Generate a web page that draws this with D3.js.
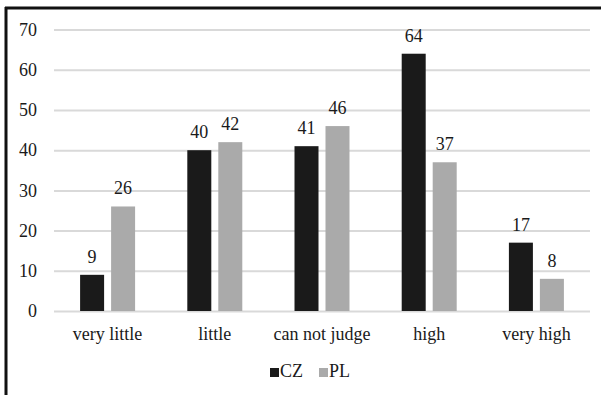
<!DOCTYPE html>
<html><head><meta charset="utf-8">
<script src="https://cdn.jsdelivr.net/npm/d3@7"></script>
<style>body{margin:0;background:#fff}svg{display:block}</style>
</head><body><svg id="c" width="601" height="395"></svg>
<script>
const categories = ["very little","little","can not judge","high","very high"];
const seriesNames = ["CZ","PL"];
const czValues = [9,40,41,64,17];
const plValues = [26,42,46,37,8];
const yTicks = [0,10,20,30,40,50,60,70];
const colors = {CZ:"#1a1a1a", PL:"#aaaaaa"};
const FONT = '"Liberation Serif"';
const FS = "18px";

const svg = d3.select("#c");
svg.append("line").attr("x1",6).attr("x2",6).attr("y1",7).attr("y2",395).attr("stroke","#111").attr("stroke-width",3);
svg.append("line").attr("x1",5).attr("x2",601).attr("y1",8).attr("y2",8).attr("stroke","#111").attr("stroke-width",3);

const y = d3.scaleLinear().domain([0,70]).range([311,29.6]);
const x0 = d3.scaleBand().domain(categories).range([54,590]).paddingInner(0.487).paddingOuter(0.2435);
const x1 = d3.scaleBand().domain(seriesNames).range([0,x0.bandwidth()]).paddingInner(0.2258);

const grid = d3.axisLeft(y).tickValues(yTicks).tickSize(-(590-54)).tickFormat("");
const gG = svg.append("g").attr("transform","translate(54,0)").call(grid);
gG.select(".domain").remove();
gG.selectAll("line").attr("stroke","#d9d9d9").attr("stroke-width",2);

const yAx = d3.axisLeft(y).tickValues(yTicks).tickSize(0).tickPadding(0);
const yG = svg.append("g").attr("transform","translate(37,0)").call(yAx);
yG.attr("font-family",FONT).attr("font-size",FS);
yG.select(".domain").remove();
yG.selectAll("text").style("font-family",FONT).style("font-size",FS).attr("fill","#1a1a1a");

const data = categories.map((c,i)=>({cat:c, vals:[{s:"CZ",v:czValues[i]},{s:"PL",v:plValues[i]}]}));
const groups = svg.append("g").selectAll("g").data(data).join("g")
  .attr("transform",d=>`translate(${x0(d.cat)},0)`);
groups.selectAll("rect").data(d=>d.vals).join("rect")
  .attr("x",d=>x1(d.s)).attr("width",x1.bandwidth())
  .attr("y",d=>y(d.v)).attr("height",d=>y(0)-y(d.v))
  .attr("fill",d=>colors[d.s]);
groups.selectAll("text").data(d=>d.vals).join("text")
  .attr("x",d=>x1(d.s)+x1.bandwidth()/2).attr("y",d=>y(d.v)-12)
  .attr("text-anchor","middle").style("font-family",FONT).style("font-size",FS).attr("fill","#1a1a1a").text(d=>d.v);

const xAx = d3.axisBottom(x0).tickSize(0).tickPadding(0);
const xG = svg.append("g").attr("transform","translate(0,327)").call(xAx);
xG.attr("font-family",FONT).attr("font-size",FS);
xG.select(".domain").remove();
xG.selectAll("text").style("font-family",FONT).style("font-size",FS).attr("fill","#1a1a1a");

const legendX = [270,319];
const lg = svg.append("g");
seriesNames.forEach((s,i)=>{
  lg.append("rect").attr("x",legendX[i]).attr("y",368).attr("width",9).attr("height",9).attr("fill",colors[s]);
  lg.append("text").attr("x",legendX[i]+10).attr("y",377).style("font-family",FONT).style("font-size",FS).attr("fill","#1a1a1a").text(s);
});
</script></body></html>
